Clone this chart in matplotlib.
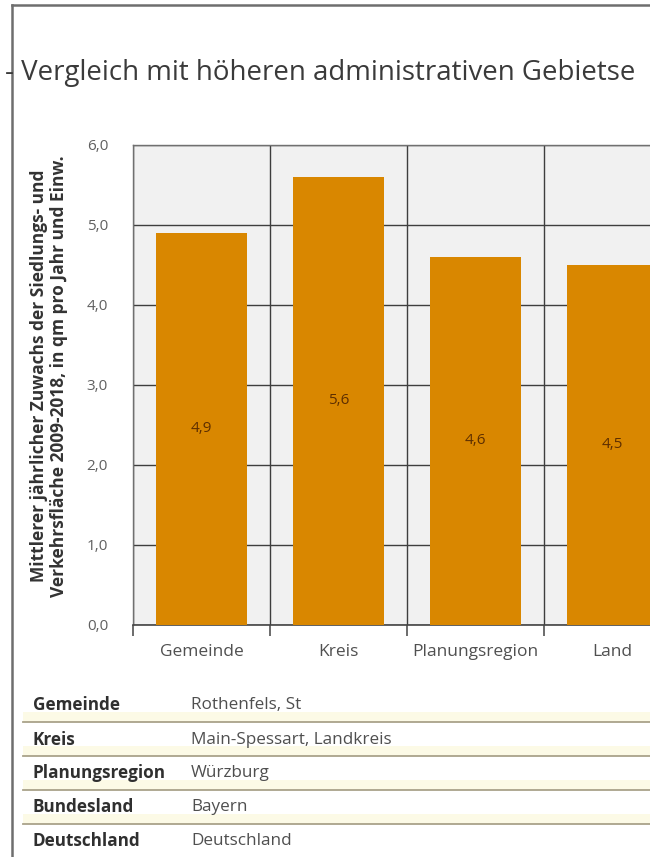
import matplotlib
matplotlib.use("Agg")
import matplotlib.pyplot as plt
from matplotlib.lines import Line2D
from matplotlib.patches import Rectangle

plt.rcParams['font.family'] = ['Open Sans', 'DejaVu Sans']

title = "- Vergleich mit höheren administrativen Gebietse"
categories = ["Gemeinde", "Kreis", "Planungsregion", "Land"]
values = [4.9, 5.6, 4.6, 4.5]
value_labels = ["4,9", "5,6", "4,6", "4,5"]
yticks = [0.0, 1.0, 2.0, 3.0, 4.0, 5.0, 6.0]
ytick_labels = ["0,0", "1,0", "2,0", "3,0", "4,0", "5,0", "6,0"]
ylabel = ("Mittlerer jährlicher Zuwachs der Siedlungs- und\n"
          "Verkehrsfläche 2009-2018, in qm pro Jahr und Einw.")
table_keys = ["Gemeinde", "Kreis", "Planungsregion", "Bundesland", "Deutschland"]
table_vals = ["Rothenfels, St", "Main-Spessart, Landkreis", "Würzburg", "Bayern", "Deutschland"]

W, H = 650, 857
fig = plt.figure(figsize=(W / 100, H / 100), dpi=100)
fig.patch.set_facecolor("white")

def fx(px):
    return px / W

def fy(py):
    return 1 - py / H

# screenshot frame
fig.add_artist(Line2D([fx(12), fx(12)], [fy(5), 0], color="#6e6e6e", lw=1.8))
fig.add_artist(Line2D([fx(12), 1], [fy(5), fy(5)], color="#6e6e6e", lw=1.8))

# title
fig.text(fx(5), fy(73), title, fontsize=19.9, color="#3a3a3a", va="center", ha="left")

# axes
ax_left, ax_top, ax_bottom = 133, 145, 625
cat_w = 137
ax = fig.add_axes([fx(ax_left), fy(ax_bottom), fx(cat_w * len(categories)), (ax_bottom - ax_top) / H])
ax.set_facecolor("#f1f1f1")
x = list(range(len(categories)))
bars = ax.bar(x, values, width=0.67, color="#d98700", zorder=3)
for xi, v, lab in zip(x, values, value_labels):
    ax.text(xi, v / 2, lab, ha="center", va="center", fontsize=11, color="#5e2f00", zorder=4)

ax.set_xlim(-0.5, len(categories) - 0.5)
ax.set_ylim(0, 6)
ax.set_yticks(yticks)
ax.set_yticklabels(ytick_labels)
ax.tick_params(axis="y", length=0, pad=18, labelsize=11, labelcolor="#606060")
ax.set_xticks(x)
ax.set_xticklabels(categories)
ax.tick_params(axis="x", which="major", length=0, pad=14, labelsize=12.5, labelcolor="#505050")
bounds = [i - 0.5 for i in range(len(categories) + 1)]
ax.set_xticks(bounds, minor=True)
ax.tick_params(axis="x", which="minor", length=8, width=1.1, color="#444444")
ax.grid(axis="y", color="#3e3e3e", lw=1.0, zorder=1)
ax.grid(axis="x", which="minor", color="#3e3e3e", lw=1.0, zorder=1)
for s in ["left", "top", "right"]:
    ax.spines[s].set_color("#707070")
    ax.spines[s].set_linewidth(1.0)
ax.spines["bottom"].set_color("#444444")
ax.spines["bottom"].set_linewidth(1.2)
ax.set_ylabel(ylabel, fontsize=12.5, fontweight="bold", color="#333333", linespacing=1.1,
              va="center", ha="center")
ax.yaxis.set_label_coords((49 - ax_left) / (cat_w * len(categories)), (ax_bottom - 376) / (ax_bottom - ax_top))

# table
row_y = [705, 740, 773, 807, 841]
sep_y = [722, 756, 790, 824]
for ry in sep_y:
    fig.add_artist(Rectangle((fx(23), fy(ry)), 1 - fx(23), 10 / H, color="#fcfae6", lw=0))
    fig.add_artist(Line2D([fx(23), 1], [fy(ry), fy(ry)], color="#a9a28a", lw=1.3))
for ry, k, v in zip(row_y, table_keys, table_vals):
    fig.text(fx(33), fy(ry), k, fontsize=12.3, fontweight="bold", color="#2f2f2f", va="center")
    fig.text(fx(191), fy(ry), v, fontsize=12.3, color="#4f4f4f", va="center")

fig.savefig("out.png", dpi=100)
